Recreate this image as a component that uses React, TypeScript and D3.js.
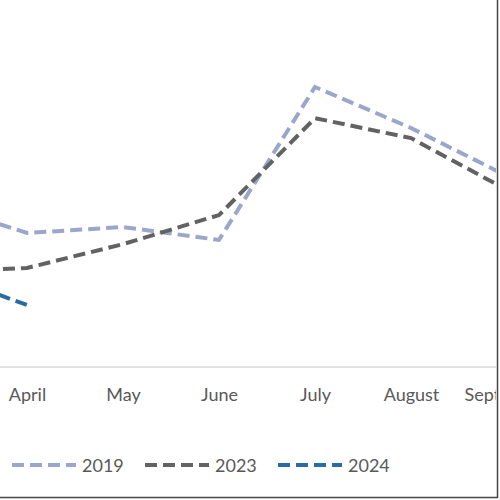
import React, { useEffect, useRef } from 'react';
import * as d3 from 'd3';

const months = ['March', 'April', 'May', 'June', 'July', 'August', 'September', 'October'];
const values2019 = [47, 38.3, 40, 36.3, 80, 68.3, 54.6, 47];
const values2023 = [27.1, 28.3, 35.1, 43.4, 71.1, 65.4, 50.6, 44];
const values2024 = [27.7, 17.7];

const seriesNames = ['2019', '2023', '2024'];
const seriesColors = ['#9aa6cc', '#626262', '#2a6aa6'];

export default function App() {
  const svgRef = useRef<SVGSVGElement>(null);

  useEffect(() => {
    if (!svgRef.current) return;
    const svg = d3.select(svgRef.current);
    svg.selectAll('*').remove();

    const x = d3.scalePoint<string>()
      .domain(months)
      .range([-69, -69 + 96 * (months.length - 1)]);
    const y = d3.scaleLinear().domain([0, 100]).range([367, 17]);

    svg.append('defs').append('clipPath').attr('id', 'plot')
      .append('rect').attr('x', 0).attr('y', 0).attr('width', 496).attr('height', 496);

    const g = svg.append('g').attr('clip-path', 'url(#plot)');

    // axis line + labels (only the months that fall in the visible crop)
    const visible = months.filter(m => (x(m) as number) > 0 && (x(m) as number) < 540);
    const axis = g.append('g')
      .attr('transform', 'translate(0,367)')
      .call(d3.axisBottom(x).tickValues(visible).tickSize(0).tickPadding(21));
    axis.select('.domain').attr('stroke', '#d9d9d9').attr('stroke-width', 1.5).attr('d', 'M-100,0H496');
    axis.selectAll('text')
      .attr('fill', '#595959')
      .style('font-family', 'Lato, "Open Sans", sans-serif')
      .style('font-size', '18px');

    const line = d3.line<number>()
      .x((_, i) => x(months[i]) as number)
      .y(d => y(d));

    const all = [values2019, values2023, values2024];
    all.forEach((vals, i) => {
      g.append('path')
        .datum(vals)
        .attr('fill', 'none')
        .attr('stroke', seriesColors[i])
        .attr('stroke-width', 4)
        .attr('stroke-dasharray', '12,6')
        .attr('d', line);
    });

    // legend
    const legendX = [12, 145, 278];
    const leg = g.append('g').attr('transform', 'translate(0,465)');
    seriesNames.forEach((name, i) => {
      leg.append('line')
        .attr('x1', legendX[i]).attr('x2', legendX[i] + 64)
        .attr('y1', 0).attr('y2', 0)
        .attr('stroke', seriesColors[i])
        .attr('stroke-width', 4)
        .attr('stroke-dasharray', '12,6');
      leg.append('text')
        .attr('x', legendX[i] + 70)
        .attr('y', 6.5)
        .attr('fill', '#595959')
        .style('font-family', 'Lato, "Open Sans", sans-serif')
        .style('font-size', '18px')
        .text(name);
    });

    // chart border (left/top cropped away)
    svg.append('rect')
      .attr('x', -10).attr('y', -10)
      .attr('width', 507.5).attr('height', 507.5)
      .attr('fill', 'none')
      .attr('stroke', '#444')
      .attr('stroke-width', 1.5);
  }, []);

  return (
    <div style={{ position: 'absolute', left: 0, top: 0 }}>
      <svg ref={svgRef} width={500} height={500} style={{ display: 'block', background: '#fff' }} />
    </div>
  );
}
